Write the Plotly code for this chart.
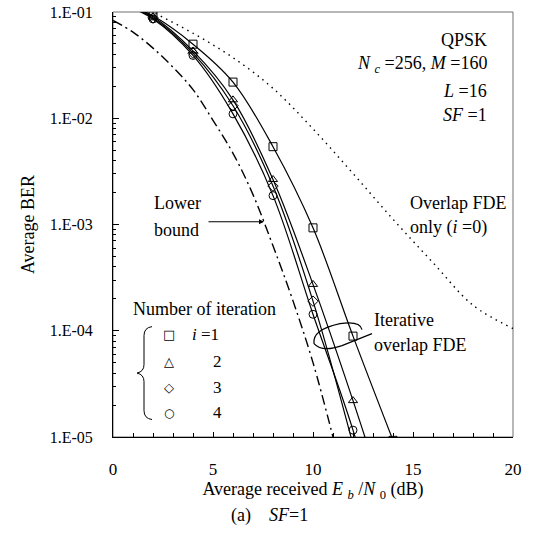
import plotly.graph_objects as go

# ---------------- data ----------------
snr_iter = [0, 2, 4, 6, 8, 10, 12, 14]
ber_i1 = [0.135, 0.092, 0.0498, 0.0219, 0.0054, 0.00093, 0.000089, 0.0000093]
ber_i2 = [0.132, 0.090, 0.043, 0.0149, 0.00265, 0.000273, 0.0000220, 0.0000015]
ber_i3 = [0.131, 0.088, 0.041, 0.0131, 0.0023, 0.000190, 0.0000085, 0.0000003]
ber_i4 = [0.130, 0.086, 0.039, 0.0110, 0.00187, 0.000143, 0.0000116, 0.0000005]

snr_lb = [0, 1, 2, 3, 4, 5, 6, 7, 8, 9, 10, 11]
ber_lb = [0.0832, 0.0646, 0.0457, 0.0302, 0.0186, 0.00955, 0.00468, 0.00191,
          0.00063, 0.000191, 0.0000501, 0.0000100]

snr_ov = [0, 2, 4, 6, 8, 10, 12, 14, 16, 18, 20]
ber_ov = [0.158, 0.100, 0.0631, 0.0372, 0.0191, 0.00794, 0.00302, 0.00112,
          0.000437, 0.000174, 0.000105]

y_tickvals = [1e-5, 1e-4, 1e-3, 1e-2, 1e-1]
y_ticktext = ["1.E-05", "1.E-04", "1.E-03", "1.E-02", "1.E-01"]
x_tickvals = [0, 5, 10, 15, 20]

iter_labels = ["<i>i</i> =1", "2", "3", "4"]
iter_symbols = ["square-open", "triangle-up-open", "diamond-open", "circle-open"]
iter_glyphs = ["\u25a1", "\u25b3", "\u25c7", "\u25cb"]

# ---------------- layout helpers ----------------
W, H = 535, 546
L, R, T, B = 113, 513, 12, 437.5
FONT = "Liberation Serif"
TS = 18  # annotation text size


def px(x):
    return (x - L) / (R - L)


def py(y):
    return (B - y) / (B - T)


fig = go.Figure()

# overlap FDE only (dotted)
fig.add_trace(go.Scatter(x=snr_ov, y=ber_ov, mode="lines", showlegend=False,
                         name="Overlap FDE only (i=0)",
                         line=dict(color="black", width=1.4, dash="1.5px,4.5px", shape="spline")))
# lower bound (dash-dot)
fig.add_trace(go.Scatter(x=snr_lb, y=ber_lb, mode="lines", showlegend=False,
                         name="Lower bound",
                         line=dict(color="black", width=1.4, dash="10px,4px,2px,4px", shape="spline")))

for k, (ys, sym) in enumerate(zip([ber_i1, ber_i2, ber_i3, ber_i4], iter_symbols)):
    fig.add_trace(go.Scatter(x=snr_iter, y=ys, mode="lines+markers", showlegend=False,
                             name=f"i={k + 1}",
                             line=dict(color="black", width=1.2, shape="spline"),
                             marker=dict(symbol=sym, size=8, color="black",
                                         line=dict(color="black", width=1))))

anns = []


def txt(x, y, s, xanchor="left", size=TS, family=FONT):
    anns.append(dict(x=px(x), y=py(y), xref="paper", yref="paper", text=s,
                     showarrow=False, xanchor=xanchor, yanchor="middle",
                     font=dict(family=family, size=size, color="black")))


txt(489, 40, "QPSK", "right")
txt(489, 65, "<i>N</i> <sub><i>c</i></sub> =256, <i>M</i> =160", "right")
txt(489, 91, "<i>L</i> =16", "right")
txt(489, 115, "<i>SF</i> =1", "right")
txt(408, 203, "Overlap FDE")
txt(408, 228, "only (<i>i</i> =0)")
txt(372, 320, "Iterative")
txt(372, 345, "overlap FDE")
txt(152, 203, "Lower")
txt(152, 230, "bound")
txt(131, 309, "Number of iteration")
txt(269, 516, "(a)" + "\u00a0" * 4 + "<i>SF</i>=1", "center")

# legend block (symbols + labels)
leg_rows = [335, 362, 388, 413]
glyph_sizes = [13, 13, 13, 12]
for k, yy in enumerate(leg_rows):
    txt(169, yy, iter_glyphs[k], "center", size=glyph_sizes[k], family="DejaVu Sans")
    if k == 0:
        txt(190, yy, iter_labels[k], "left", size=17)
    else:
        txt(211, yy, iter_labels[k], "left", size=17)

# lower bound arrow
anns.append(dict(x=px(264), y=py(222), xref="paper", yref="paper", text="",
                 showarrow=True, ax=-57, ay=0, arrowhead=2, arrowsize=1,
                 arrowwidth=1, arrowcolor="black"))

shapes = [
    # frame (top/right lighter)
    dict(type="rect", xref="paper", yref="paper", x0=0, x1=1, y0=0, y1=1,
         line=dict(color="#707070", width=1), layer="below"),
    # ellipse marking iterative curves
    dict(type="path", xref="paper", yref="paper",
         path=(f"M {px(362)},{py(330)} "
               f"Q {px(360)},{py(321)} {px(340)},{py(324)} "
               f"Q {px(312)},{py(330)} {px(314)},{py(344)} "
               f"Q {px(322)},{py(353)} {px(342)},{py(346)} "
               f"L {px(372)},{py(334)}"),
         line=dict(color="black", width=1.2)),
    # brace for legend
    dict(type="path", xref="paper", yref="paper",
         path=(f"M {px(152)},{py(327)} "
               f"Q {px(144)},{py(328)} {px(144)},{py(336)} "
               f"L {px(144)},{py(365)} "
               f"Q {px(144)},{py(372)} {px(137)},{py(373.5)} "
               f"Q {px(144)},{py(375)} {px(144)},{py(382)} "
               f"L {px(144)},{py(411)} "
               f"Q {px(144)},{py(419)} {px(152)},{py(420)}"),
         line=dict(color="black", width=1)),
]

fig.update_layout(
    width=W, height=H,
    margin=dict(l=L, r=W - R, t=T, b=H - B, pad=0, autoexpand=False),
    paper_bgcolor="white", plot_bgcolor="white",
    font=dict(family=FONT, size=16, color="black"),
    annotations=anns, shapes=shapes,
    showlegend=False,
)

fig.update_xaxes(range=[0, 20], tickvals=x_tickvals, showgrid=False, zeroline=False,
                 automargin=False,
                 showline=True, linecolor="black", linewidth=1,
                 ticks="inside", ticklen=5, tickcolor="black",
                 ticklabelstandoff=17,
                 minor=dict(ticks="inside", ticklen=4, dtick=1, tickcolor="black", showgrid=False),
                 tickfont=dict(family=FONT, size=17),
                 title=dict(text="Average received <i>E</i> <sub><i>b</i></sub> /<i>N</i> <sub>0</sub> (dB)",
                            font=dict(family=FONT, size=18), standoff=2))

fig.update_yaxes(type="log", range=[-5, -1], tickvals=y_tickvals, ticktext=y_ticktext,
                 showgrid=False, zeroline=False, automargin=False,
                 showline=True, linecolor="black", linewidth=1,
                 ticks="inside", ticklen=6, tickcolor="black",
                 ticklabelstandoff=16,
                 minor=dict(ticks="inside", ticklen=3, dtick="D1", tickcolor="black", showgrid=False),
                 tickfont=dict(family=FONT, size=16),
                 title=dict(text="Average BER", font=dict(family=FONT, size=18), standoff=10))

fig.write_html("out.html", config={"displayModeBar": False},
               post_script="document.body.style.margin='0';document.body.style.padding='0';")
